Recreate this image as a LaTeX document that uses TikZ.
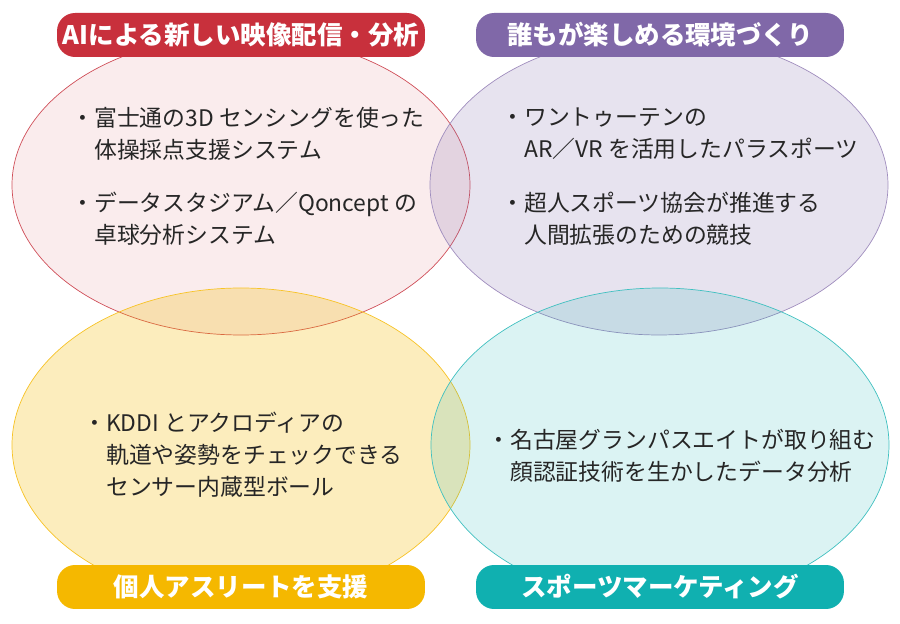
\documentclass[tikz,border=0pt]{standalone}
\usepackage{fontspec}
\setmainfont{Noto Sans CJK JP}
\definecolor{aired}{HTML}{C8303C}
\definecolor{envpurple}{HTML}{8068A8}
\definecolor{athyellow}{HTML}{F5B800}
\definecolor{mkteal}{HTML}{10B0B0}
\begin{document}
\begin{tikzpicture}[x=0.02cm,y=-0.02cm,
    tag/.style={rounded corners=0.36cm,minimum width=7.36cm,minimum height=0.88cm,
      inner sep=0pt,text=white,font=\bfseries\fontsize{14.5}{16}\selectfont},
    item/.style={anchor=west,align=left,inner sep=0pt,text=black!85,
      font=\fontsize{13}{18.3}\selectfont}]

\useasboundingbox (0,0) rectangle (900,624);

% outline
\draw[aired!85,fill=aired,fill opacity=0.09] (241,185) ellipse (229 and 150);
\draw[envpurple!75,fill=envpurple,fill opacity=0.19] (659,185) ellipse (229 and 150);
\draw[athyellow!85,fill=athyellow,fill opacity=0.26] (241,445) ellipse (229 and 157);
\draw[mkteal!80,fill=mkteal,fill opacity=0.15] (660,445) ellipse (229 and 157);

% titles
\node[tag,fill=aired] (ai) at (241,35) {AIによる新しい映像配信・分析};
\node[tag,fill=envpurple] (env) at (660,35) {誰もが楽しめる環境づくり};
\node[tag,fill=athyellow] (ath) at (241,587) {個人アスリートを支援};
\node[tag,fill=mkteal] (mkt) at (660,587) {スポーツマーケティング};

% items
\node[item] (ai1) at (71,134) {・富士通の3D\ センシングを使った\\\hspace*{1em}体操採点支援システム};
\node[item] (ai2) at (71,219) {・データスタジアム／Qoncept\ の\\\hspace*{1em}卓球分析システム};
\node[item] (env1) at (501,134) {・ワントゥーテンの\\\hspace*{1em}AR／VR\ を活用したパラスポーツ};
\node[item] (env2) at (501,219) {・超人スポーツ協会が推進する\\\hspace*{1em}人間拡張のための競技};
\node[item] (ath1) at (83,455) {・KDDI\ とアクロディアの\\\hspace*{1em}軌道や姿勢をチェックできる\\\hspace*{1em}センサー内蔵型ボール};
\node[item] (mkt1) at (487,456) {・名古屋グランパスエイトが取り組む\\\hspace*{1em}顔認証技術を生かしたデータ分析};

\end{tikzpicture}
\end{document}
